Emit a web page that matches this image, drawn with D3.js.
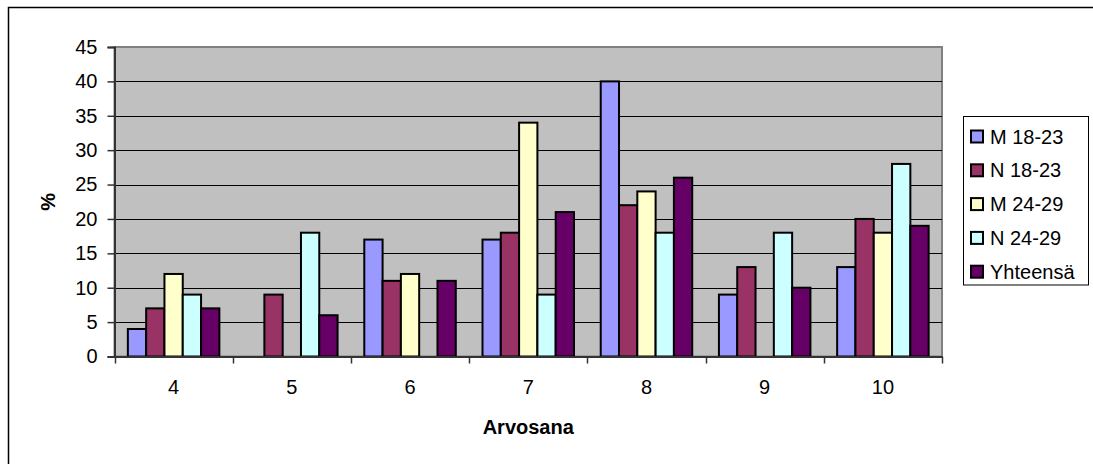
<!DOCTYPE html>
<html>
<head>
<meta charset="utf-8">
<script src="https://cdn.jsdelivr.net/npm/d3@7"></script>
<style>
  html, body { margin: 0; padding: 0; background: #fff; overflow: hidden; }
  svg { display: block; font-family: "Liberation Sans", Arial, sans-serif; }
</style>
</head>
<body>
<svg id="chart" width="1093" height="464"></svg>
<script>
const categories = ["4", "5", "6", "7", "8", "9", "10"];
const seriesNames = ["M 18-23", "N 18-23", "M 24-29", "N 24-29", "Yhteensä"];
const seriesColors = ["#9999FF", "#993366", "#FFFFCC", "#CCFFFF", "#660066"];
const valuesM1823 = [4, 0, 17, 17, 40, 9, 13];
const valuesN1823 = [7, 9, 11, 18, 22, 13, 20];
const valuesM2429 = [12, 0, 12, 34, 24, 0, 18];
const valuesN2429 = [9, 18, 0, 9, 18, 18, 28];
const valuesTotal = [7, 6, 11, 21, 26, 10, 19];
const yTicks = [0, 5, 10, 15, 20, 25, 30, 35, 40, 45];
const yLabel = "%";
const xLabel = "Arvosana";

const seriesValues = [valuesM1823, valuesN1823, valuesM2429, valuesN2429, valuesTotal];

const svg = d3.select("#chart");

// outer chart border (only left and top edges are inside the picture)
svg.append("path")
  .attr("d", "M8.5,464 L8.5,7.5 L1093,7.5")
  .attr("fill", "none").attr("stroke", "#000").attr("stroke-width", 1.5);

const plot = { left: 114.5, top: 47, right: 942, bottom: 356.5 };

const x = d3.scaleBand().domain(categories).range([plot.left, plot.right]).padding(0);
const y = d3.scaleLinear().domain([0, 45]).range([plot.bottom, plot.top]);

const bw = x.bandwidth();
const groupW = bw * 0.774;
const xs = d3.scaleBand().domain(seriesNames)
  .range([(bw - groupW) / 2, (bw + groupW) / 2]).padding(0);

// plot area
svg.append("rect")
  .attr("x", plot.left).attr("y", plot.top)
  .attr("width", plot.right - plot.left).attr("height", plot.bottom - plot.top)
  .attr("fill", "#C0C0C0").attr("stroke", "#808080").attr("stroke-width", 2);

// gridlines
svg.append("g").selectAll("line")
  .data(yTicks.filter(t => t > 0 && t < 45))
  .join("line")
  .attr("x1", plot.left).attr("x2", plot.right)
  .attr("y1", d => Math.round(y(d)) + 0.5).attr("y2", d => Math.round(y(d)) + 0.5)
  .attr("stroke", "#000").attr("stroke-width", 1);

// bars
const rows = [];
categories.forEach((c, i) => {
  seriesNames.forEach((s, j) => {
    rows.push({ cat: c, series: s, value: seriesValues[j][i], color: seriesColors[j] });
  });
});

svg.append("g").selectAll("rect")
  .data(rows.filter(d => d.value > 0))
  .join("rect")
  .attr("x", d => x(d.cat) + xs(d.series))
  .attr("y", d => y(d.value))
  .attr("width", xs.bandwidth())
  .attr("height", d => y(0) - y(d.value))
  .attr("fill", d => d.color)
  .attr("stroke", "#000")
  .attr("stroke-width", 2);

// y axis
const yAxis = d3.axisLeft(y).tickValues(yTicks).tickSize(7).tickPadding(10);
const gy = svg.append("g").attr("transform", `translate(${plot.left},0)`).call(yAxis);
gy.select(".domain").attr("stroke", "#333").attr("stroke-width", 2);
gy.selectAll(".tick line").attr("stroke", "#333").attr("stroke-width", 1.5);
gy.selectAll(".tick text").attr("font-size", 20).attr("fill", "#000")
  .attr("font-family", "Liberation Sans, Arial, sans-serif");

// x axis
const xAxis = d3.axisBottom(x).tickSize(0).tickPadding(23);
const gx = svg.append("g").attr("transform", `translate(0,${plot.bottom})`).call(xAxis);
gx.select(".domain").attr("stroke", "#333").attr("stroke-width", 2);
gx.selectAll(".tick text").attr("font-size", 20).attr("fill", "#000")
  .attr("font-family", "Liberation Sans, Arial, sans-serif");
// category boundary ticks
const bounds = categories.map(c => x(c)).concat([plot.right]);
svg.append("g").selectAll("line")
  .data(bounds)
  .join("line")
  .attr("x1", d => Math.round(d) + 0.5).attr("x2", d => Math.round(d) + 0.5)
  .attr("y1", plot.bottom).attr("y2", plot.bottom + 7)
  .attr("stroke", "#333").attr("stroke-width", 1.5);

// axis titles
svg.append("text")
  .attr("transform", `translate(48,${(plot.top + plot.bottom) / 2}) rotate(-90)`)
  .attr("text-anchor", "middle").attr("dominant-baseline", "central")
  .attr("font-size", 20).attr("font-weight", "bold").text(yLabel);

svg.append("text")
  .attr("x", (plot.left + plot.right) / 2).attr("y", 427)
  .attr("text-anchor", "middle").attr("dominant-baseline", "central")
  .attr("font-size", 20).attr("font-weight", "bold").text(xLabel);

// legend
const legend = svg.append("g");
legend.append("rect")
  .attr("x", 963.5).attr("y", 116.5).attr("width", 125).attr("height", 168.5)
  .attr("fill", "#fff").attr("stroke", "#000").attr("stroke-width", 1);

const items = legend.selectAll("g.item")
  .data(seriesNames)
  .join("g").attr("class", "item")
  .attr("transform", (d, i) => `translate(0,${136.5 + i * 33.8})`);
items.append("rect")
  .attr("x", 971).attr("y", -6).attr("width", 12).attr("height", 12)
  .attr("fill", (d, i) => seriesColors[i]).attr("stroke", "#000").attr("stroke-width", 2);
items.append("text")
  .attr("x", 990).attr("y", 0).attr("dominant-baseline", "central")
  .attr("font-size", 20).attr("fill", "#000").text(d => d);
</script>
</body>
</html>
